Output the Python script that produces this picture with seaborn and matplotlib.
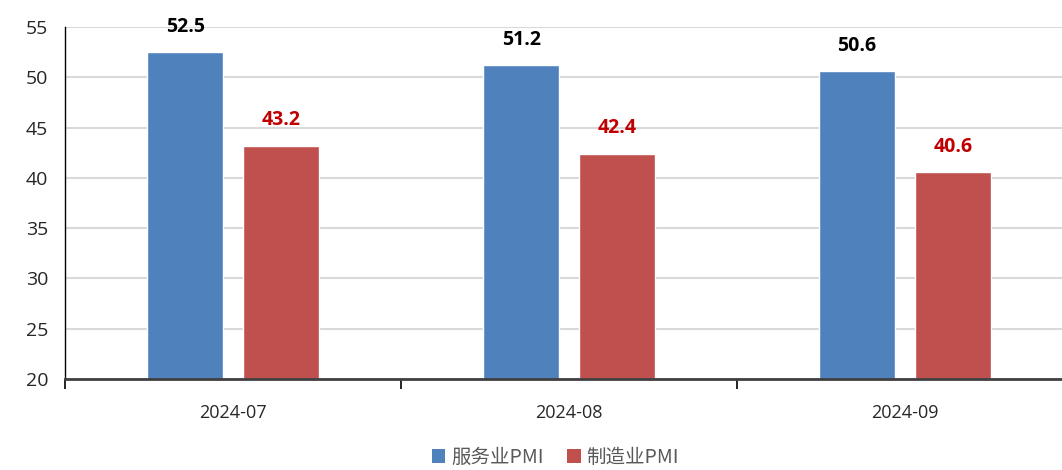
import pandas as pd
import matplotlib
matplotlib.use("Agg")
import matplotlib.pyplot as plt
import seaborn as sns
from matplotlib.patches import Patch

months = ["2024-07", "2024-08", "2024-09"]
services_pmi = [52.5, 51.2, 50.6]
manufacturing_pmi = [43.2, 42.4, 40.6]
series_names = ["服务业PMI", "制造业PMI"]
colors = ["#4F81BD", "#C0504D"]
label_colors = ["#000000", "#C00000"]

df = pd.DataFrame({
    "month": months * 2,
    "value": services_pmi + manufacturing_pmi,
    "series": [series_names[0]] * 3 + [series_names[1]] * 3,
})

sns.set_style("white")
plt.rcParams["font.family"] = ["Open Sans", "Noto Sans CJK SC", "DejaVu Sans"]

fig = plt.figure(figsize=(10.62, 4.70), dpi=100)
ax = fig.add_axes([65 / 1062, 91 / 470, 997 / 1062, 352 / 470])

sns.barplot(data=df, x="month", y="value", hue="series", palette=colors,
            width=0.57, gap=0.21, ax=ax, legend=False, saturation=1)

for cont, lc in zip(ax.containers, label_colors):
    ax.bar_label(cont, fmt="%.1f", padding=11, color=lc, fontsize=14,
                 fontweight="bold")

ax.set_ylim(20, 55)
ax.set_yticks(range(20, 56, 5))
ax.set_xlim(-0.5, 997 / 336 - 0.5)
ax.yaxis.grid(True, color="#D9D9D9", linewidth=1.5)
ax.set_axisbelow(True)
ax.set_xlabel("")
ax.set_ylabel("")

# ticks at category boundaries, labels in the middle
ax.set_xticks([0, 1, 2])
ax.set_xticklabels(months, fontsize=13)
ax.set_xticks([-0.5, 0.5, 1.5], minor=True)
ax.tick_params(axis="x", which="major", bottom=False, length=0, pad=18)
ax.tick_params(axis="x", which="minor", bottom=True, length=7, width=1.2,
               color="#000000", direction="out")
ax.tick_params(axis="y", left=False, length=0, labelsize=14, pad=12)

for s in ["top", "right"]:
    ax.spines[s].set_visible(False)
ax.spines["left"].set_color("#000000")
ax.spines["left"].set_linewidth(1.0)
ax.spines["bottom"].set_color("#404040")
ax.spines["bottom"].set_linewidth(2.0)

handles = [Patch(facecolor=c, edgecolor="none") for c in colors]
fig.legend(handles, series_names, loc="center", bbox_to_anchor=(0.523, 0.027),
           ncol=2, frameon=False, labelcolor="#595959",
           handlelength=0.7, handleheight=0.7, handletextpad=0.3,
           columnspacing=1.2, prop={"family": ["Noto Sans CJK SC", "DejaVu Sans"],
                                    "size": 14})

fig.savefig("out.png", dpi=100)
